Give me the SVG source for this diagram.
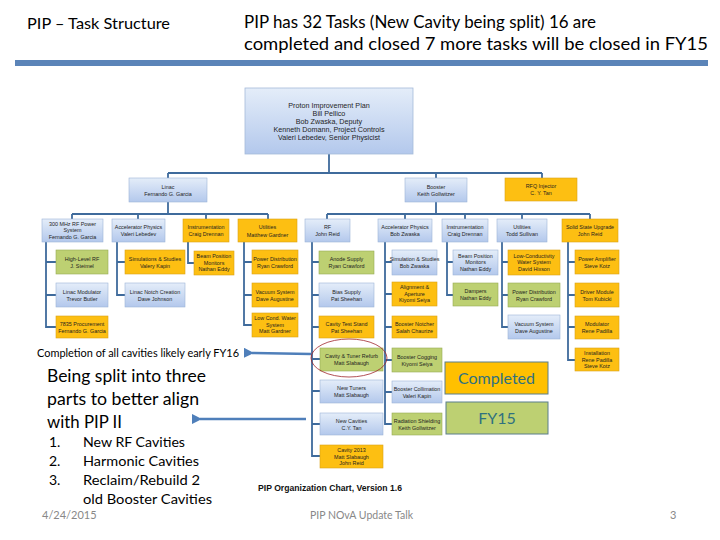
<svg xmlns="http://www.w3.org/2000/svg" width="720" height="540" viewBox="0 0 720 540">
<defs>
<linearGradient id="gb" x1="0" y1="0" x2="0" y2="1">
<stop offset="0" stop-color="#e4edf9"/><stop offset="1" stop-color="#b3c8ec"/>
</linearGradient>
<marker id="ah" viewBox="0 0 10 10" refX="2" refY="5" markerWidth="4" markerHeight="4" orient="auto">
<path d="M10 0 L0 5 L10 10 Z" fill="#4f7fba"/>
</marker>
<style>
.b{fill:url(#gb);stroke:#9db4d8;stroke-width:0.6}
.o{fill:#fdbf12;stroke:#d9a21a;stroke-width:0.6}
.g{fill:#bdd072;stroke:#97ab55;stroke-width:0.6}
.t{font-family:"Liberation Sans",Arial,sans-serif;font-size:5.4px;fill:#1e1e1e;text-anchor:middle}
.c{fill:none;stroke:#3f6b9c;stroke-width:1.8}
.h{font-family:Lato,"Liberation Sans",sans-serif;fill:#000}
.grey{font-family:Lato,"Liberation Sans",sans-serif;fill:#888;font-size:11px}
.arr{stroke:#4f7fba;stroke-width:2.6;fill:none;marker-end:url(#ah)}
</style>
</defs>
<rect width="720" height="540" fill="#fff"/>
<text class="h" x="27" y="29" font-size="15" textLength="143" lengthAdjust="spacingAndGlyphs">PIP – Task Structure</text>
<text class="h" x="244" y="28" font-size="18" textLength="352" lengthAdjust="spacingAndGlyphs">PIP has 32 Tasks (New Cavity being split) 16 are</text>
<text class="h" x="244" y="50" font-size="18" textLength="464" lengthAdjust="spacingAndGlyphs">completed and closed 7 more tasks will be closed in FY15</text>
<rect x="15" y="60" width="693" height="6" fill="#5b84b8"/>

<g id="connectors">
<path class="c" d="M329 153 V173 M168 173 H542 M168 173 V178 M436 173 V178 M542 173 V178"/>
<path class="c" d="M168 202 V214 M72 214 H268 M72 214 V219 M138 214 V219 M206 214 V219 M268 214 V219"/>
<path class="c" d="M436 202 V214 M327 214 H590 M327 214 V219 M405 214 V219 M465 214 V219 M522 214 V219 M590 214 V219"/>
<path class="c" d="M46 242 V327 H56 M46 262 H56 M46 295 H56"/>
<path class="c" d="M117 242 V295 H125 M117 262 H125"/>
<path class="c" d="M188 242 V263 H194"/>
<path class="c" d="M244 242 V325 H252 M244 262 H252 M244 295 H252"/>
<path class="c" d="M312 242 V456 H320 M312 262 H319 M312 295 H319 M312 327 H319 M312 359 H320 M312 391 H320 M312 424 H320"/>
<path class="c" d="M385 242 V424 H392 M385 262 H392 M385 294 H392 M385 327 H392 M385 360 H392 M385 392 H392"/>
<path class="c" d="M447 242 V295 H453 M447 262 H453"/>
<path class="c" d="M502 242 V327 H508 M502 262 H508 M502 295 H508"/>
<path class="c" d="M568 242 V360 H575 M568 262 H575 M568 295 H575 M568 327 H575"/>
</g>

<g id="pip">
<rect x="245" y="88" width="168" height="66" fill="url(#gb)" stroke="#a5bbd9" stroke-width="0.8"/>
<text class="t" x="329" style="font-size:7.2px"><tspan x="329" y="108">Proton Improvement Plan</tspan><tspan x="329" y="116">Bill Pellico</tspan><tspan x="329" y="124">Bob Zwaska, Deputy</tspan><tspan x="329" y="132">Kenneth Domann, Project Controls</tspan><tspan x="329" y="140">Valeri Lebedev, Senior Physicist</tspan></text>
</g>

<g id="linac"><rect class="b" x="129" y="178" width="78" height="24"/><text class="t"><tspan x="168" y="188.5">Linac</tspan><tspan x="168" y="195.5">Fernando G. Garcia</tspan></text></g>
<g id="booster"><rect class="b" x="405" y="178" width="62" height="24"/><text class="t"><tspan x="436" y="188.5">Booster</tspan><tspan x="436" y="195.5">Keith Gollwitzer</tspan></text></g>
<g id="rfq"><rect class="o" x="505" y="178" width="72" height="23"/><text class="t"><tspan x="541" y="188">RFQ Injector</tspan><tspan x="541" y="195">C. Y. Tan</tspan></text></g>

<g id="l-rf"><rect class="b" x="42" y="219" width="61" height="23"/><text class="t"><tspan x="72.5" y="225.5">300 MHz RF Power</tspan><tspan x="72.5" y="232">System</tspan><tspan x="72.5" y="238.5">Fernando G. Garcia</tspan></text></g>
<g id="l-ap"><rect class="b" x="112" y="219" width="53" height="23"/><text class="t"><tspan x="138.5" y="229">Accelerator Physics</tspan><tspan x="138.5" y="236">Valeri Lebedev</tspan></text></g>
<g id="l-in"><rect class="o" x="183" y="219" width="46" height="23"/><text class="t"><tspan x="206" y="229">Instrumentation</tspan><tspan x="206" y="236">Craig Drennan</tspan></text></g>
<g id="l-ut"><rect class="o" x="238" y="219" width="59" height="23"/><text class="t"><tspan x="267.5" y="229">Utilities</tspan><tspan x="267.5" y="236.5">Matthew Gardner</tspan></text></g>

<g id="b-rf"><rect class="b" x="305" y="219" width="45" height="23"/><text class="t"><tspan x="327.5" y="229">RF</tspan><tspan x="327.5" y="236">John Reid</tspan></text></g>
<g id="b-ap"><rect class="b" x="378" y="219" width="54" height="23"/><text class="t"><tspan x="405" y="229">Accelerator Physics</tspan><tspan x="405" y="236">Bob Zwaska</tspan></text></g>
<g id="b-in"><rect class="b" x="442" y="219" width="46" height="23"/><text class="t"><tspan x="465" y="229">Instrumentation</tspan><tspan x="465" y="236">Craig Drennan</tspan></text></g>
<g id="b-ut"><rect class="b" x="497" y="219" width="50" height="23"/><text class="t"><tspan x="522" y="229">Utilities</tspan><tspan x="522" y="236">Todd Sullivan</tspan></text></g>
<g id="b-ss"><rect class="o" x="562" y="219" width="56" height="23"/><text class="t"><tspan x="590" y="229">Solid State Upgrade</tspan><tspan x="590" y="236">John Reid</tspan></text></g>

<g id="l1"><rect class="g" x="56" y="250" width="52" height="24"/><text class="t"><tspan x="82" y="260.5">High-Level RF</tspan><tspan x="82" y="267.5">J. Steimel</tspan></text></g>
<g id="l2"><rect class="b" x="56" y="283" width="52" height="24"/><text class="t"><tspan x="82" y="293.5">Linac Modulator</tspan><tspan x="82" y="300.5">Trevor Butler</tspan></text></g>
<g id="l3"><rect class="o" x="56" y="316" width="52" height="22"/><text class="t"><tspan x="82" y="325.5">7835 Procurement</tspan><tspan x="82" y="332.5">Fernando G. Garcia</tspan></text></g>
<g id="l4"><rect class="o" x="125" y="250" width="60" height="24"/><text class="t"><tspan x="155" y="260.5">Simulations &amp; Studies</tspan><tspan x="155" y="267.5">Valery Kapin</tspan></text></g>
<g id="l5"><rect class="b" x="125" y="283" width="60" height="24"/><text class="t"><tspan x="155" y="293.5">Linac Notch Creation</tspan><tspan x="155" y="300.5">Dave Johnson</tspan></text></g>
<g id="l6"><rect class="o" x="194" y="251" width="40" height="24"/><text class="t"><tspan x="214" y="258">Beam Position</tspan><tspan x="214" y="264.5">Monitors</tspan><tspan x="214" y="271">Nathan Eddy</tspan></text></g>
<g id="l7"><rect class="o" x="252" y="250" width="46" height="24"/><text class="t"><tspan x="275" y="260.5">Power Distribution</tspan><tspan x="275" y="267.5">Ryan Crawford</tspan></text></g>
<g id="l8"><rect class="o" x="252" y="283" width="46" height="24"/><text class="t"><tspan x="275" y="293.5">Vacuum System</tspan><tspan x="275" y="300.5">Dave Augustine</tspan></text></g>
<g id="l9"><rect class="o" x="252" y="313" width="46" height="24"/><text class="t"><tspan x="275" y="320">Low Cond. Water</tspan><tspan x="275" y="326.5">System</tspan><tspan x="275" y="333">Matt Gardner</tspan></text></g>

<g id="b1"><rect class="g" x="319" y="251" width="55" height="23"/><text class="t"><tspan x="346.5" y="261">Anode Supply</tspan><tspan x="346.5" y="268">Ryan Crawford</tspan></text></g>
<g id="b2"><rect class="b" x="319" y="283" width="55" height="24"/><text class="t"><tspan x="346.5" y="293.5">Bias Supply</tspan><tspan x="346.5" y="300.5">Pat Sheehan</tspan></text></g>
<g id="b3"><rect class="o" x="319" y="316" width="55" height="22"/><text class="t"><tspan x="346.5" y="325.5">Cavity Test Stand</tspan><tspan x="346.5" y="332.5">Pat Sheehan</tspan></text></g>
<g id="b4"><rect class="g" x="320" y="348" width="63" height="23"/><text class="t"><tspan x="351.5" y="358">Cavity &amp; Tuner Refurb</tspan><tspan x="351.5" y="365">Matt Slabaugh</tspan></text></g>
<g id="b5"><rect class="b" x="320" y="380" width="63" height="23"/><text class="t"><tspan x="351.5" y="390">New Tuners</tspan><tspan x="351.5" y="397">Matt Slabaugh</tspan></text></g>
<g id="b6"><rect class="b" x="320" y="413" width="63" height="22"/><text class="t"><tspan x="351.5" y="422.5">New Cavities</tspan><tspan x="351.5" y="429.5">C.Y. Tan</tspan></text></g>
<g id="b7"><rect class="o" x="320" y="445" width="63" height="23"/><text class="t"><tspan x="351.5" y="452">Cavity 2013</tspan><tspan x="351.5" y="458.5">Matt Slabaugh</tspan><tspan x="351.5" y="465">John Reid</tspan></text></g>
<ellipse cx="349" cy="358" rx="38" ry="19" fill="none" stroke="#a0262c" stroke-width="0.8"/>

<g id="b8"><rect class="b" x="392" y="250" width="45" height="25"/><text class="t"><tspan x="414.5" y="261">Simulation &amp; Studies</tspan><tspan x="414.5" y="268">Bob Zwaska</tspan></text></g>
<g id="b9"><rect class="o" x="392" y="282" width="45" height="24"/><text class="t"><tspan x="414.5" y="289">Alignment &amp;</tspan><tspan x="414.5" y="295.5">Aperture</tspan><tspan x="414.5" y="302">Kiyomi Seiya</tspan></text></g>
<g id="b10"><rect class="o" x="392" y="316" width="45" height="22"/><text class="t"><tspan x="414.5" y="325.5">Booster Notcher</tspan><tspan x="414.5" y="332.5">Salah Chaurize</tspan></text></g>
<g id="b11"><rect class="g" x="392" y="348" width="50" height="24"/><text class="t"><tspan x="417" y="358.5">Booster Cogging</tspan><tspan x="417" y="365.5">Kiyomi Seiya</tspan></text></g>
<g id="b12"><rect class="b" x="392" y="381" width="50" height="22"/><text class="t"><tspan x="417" y="390.5">Booster Collimation</tspan><tspan x="417" y="397.5">Valeri Kapin</tspan></text></g>
<g id="b13"><rect class="g" x="392" y="413" width="50" height="22"/><text class="t"><tspan x="417" y="422.5">Radiation Shielding</tspan><tspan x="417" y="429.5">Keith Gollwitzer</tspan></text></g>

<g id="b14"><rect class="b" x="453" y="250" width="45" height="25"/><text class="t"><tspan x="475.5" y="257.5">Beam Position</tspan><tspan x="475.5" y="264">Monitors</tspan><tspan x="475.5" y="270.5">Nathan Eddy</tspan></text></g>
<g id="b15"><rect class="g" x="453" y="283" width="45" height="23"/><text class="t"><tspan x="475.5" y="293">Dampers</tspan><tspan x="475.5" y="300">Nathan Eddy</tspan></text></g>

<g id="b16"><rect class="o" x="508" y="250" width="52" height="25"/><text class="t"><tspan x="534" y="257.5">Low-Conductivity</tspan><tspan x="534" y="264">Water System</tspan><tspan x="534" y="270.5">David Hixson</tspan></text></g>
<g id="b17"><rect class="g" x="508" y="283" width="52" height="24"/><text class="t"><tspan x="534" y="293.5">Power Distribution</tspan><tspan x="534" y="300.5">Ryan Crawford</tspan></text></g>
<g id="b18"><rect class="b" x="508" y="315" width="52" height="24"/><text class="t"><tspan x="534" y="325.5">Vacuum System</tspan><tspan x="534" y="332.5">Dave Augustine</tspan></text></g>

<g id="b19"><rect class="o" x="575" y="250" width="44" height="24"/><text class="t"><tspan x="597" y="260.5">Power Amplifier</tspan><tspan x="597" y="267.5">Steve Kotz</tspan></text></g>
<g id="b20"><rect class="o" x="575" y="283" width="44" height="24"/><text class="t"><tspan x="597" y="293.5">Driver Module</tspan><tspan x="597" y="300.5">Tom Kubicki</tspan></text></g>
<g id="b21"><rect class="o" x="575" y="316" width="44" height="23"/><text class="t"><tspan x="597" y="326">Modulator</tspan><tspan x="597" y="333">Rene Padilla</tspan></text></g>
<g id="b22"><rect class="o" x="575" y="348" width="44" height="23"/><text class="t"><tspan x="597" y="355">Installation</tspan><tspan x="597" y="361.5">Rene Padilla</tspan><tspan x="597" y="368">Steve Kotz</tspan></text></g>

<g id="completed"><rect x="445" y="362" width="103" height="32" fill="#ffc000" stroke="#5b7f8c" stroke-width="1"/><text x="496.5" y="384" text-anchor="middle" font-family="Lato,'Liberation Sans',sans-serif" font-size="16" fill="#2f7180">Completed</text></g>
<g id="fy15"><rect x="446" y="402" width="102" height="32" fill="#bdd072" stroke="#5b7f8c" stroke-width="1"/><text x="497" y="424" text-anchor="middle" font-family="Lato,'Liberation Sans',sans-serif" font-size="16" fill="#2f7180">FY15</text></g>

<g id="arrows">
<line class="arr" x1="311" y1="354" x2="252" y2="353"/>
<line class="arr" x1="306" y1="419" x2="200" y2="419"/>
</g>

<text class="h" x="37" y="357" font-size="11" textLength="202" lengthAdjust="spacingAndGlyphs">Completion of all cavities likely early FY16</text>
<text class="h" x="47" y="382" font-size="18" textLength="159" lengthAdjust="spacingAndGlyphs">Being split into three</text>
<text class="h" x="47" y="405" font-size="18" textLength="152" lengthAdjust="spacingAndGlyphs">parts to better align</text>
<text class="h" x="47" y="428" font-size="18" textLength="75" lengthAdjust="spacingAndGlyphs">with PIP II</text>
<g class="h" font-size="14">
<text x="49" y="447">1.</text><text x="83" y="447" textLength="102" lengthAdjust="spacingAndGlyphs">New RF Cavities</text>
<text x="49" y="466">2.</text><text x="83" y="466" textLength="116" lengthAdjust="spacingAndGlyphs">Harmonic Cavities</text>
<text x="49" y="485">3.</text><text x="83" y="485" textLength="117" lengthAdjust="spacingAndGlyphs">Reclaim/Rebuild 2</text>
<text x="83" y="504" textLength="129" lengthAdjust="spacingAndGlyphs">old Booster Cavities</text>
</g>
<text class="grey" x="42" y="519">4/24/2015</text>
<text class="grey" x="310" y="519" textLength="103" lengthAdjust="spacingAndGlyphs">PIP NOvA Update Talk</text>
<text class="grey" x="670" y="519">3</text>
<text x="258" y="491" font-family="'Liberation Sans',Arial,sans-serif" font-size="8.5" font-weight="bold" fill="#111" textLength="144" lengthAdjust="spacingAndGlyphs">PIP Organization Chart,  Version 1.6</text>
</svg>
